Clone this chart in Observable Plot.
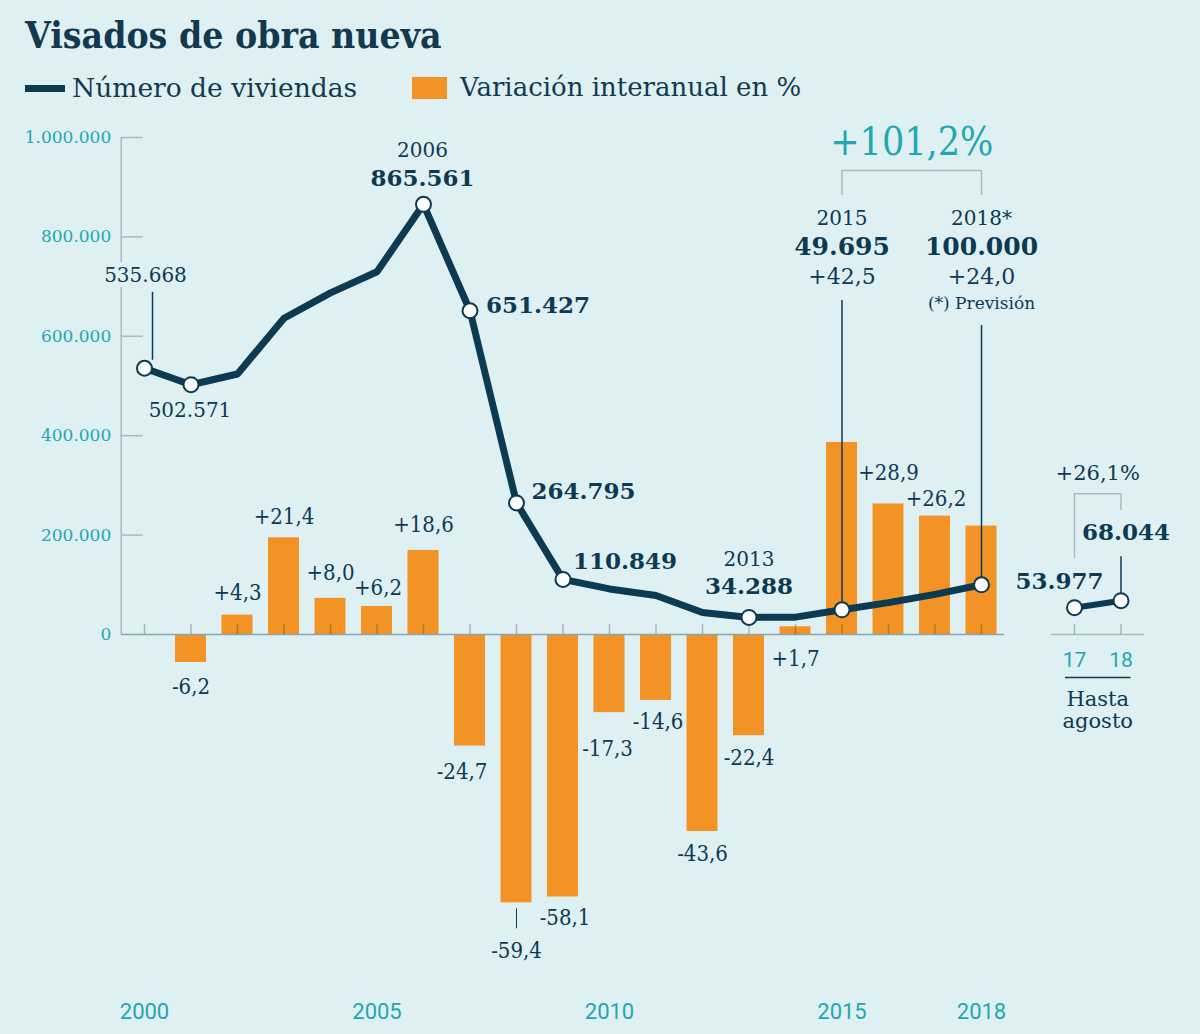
<!DOCTYPE html>
<html><head><meta charset="utf-8">
<script src="https://cdn.jsdelivr.net/npm/d3@7"></script>
<script src="https://cdn.jsdelivr.net/npm/@observablehq/plot@0.6"></script>
<style>
html,body{margin:0;padding:0;background:#dff0f3;}
#wrap{position:relative;width:1200px;height:1034px;overflow:hidden;background:#dff0f3}
#head{position:relative;height:110px}
.title{position:absolute;left:25px;top:13px;font-weight:bold;font-size:37px;font-family:'DejaVu Serif Condensed','DejaVu Serif',serif;color:#12394f;white-space:nowrap;line-height:1.2}
.lt{position:absolute;top:72px;font-size:26.5px;font-family:'DejaVu Serif',serif;color:#12394f;white-space:nowrap;line-height:1.2}
.sw{position:absolute}
#chart svg{display:block}
</style></head>
<body><div id="wrap">
<div id="head">
  <div class="title">Visados de obra nueva</div>
  <div class="sw" style="left:25px;top:85px;width:40px;height:7px;background:#0d3a53"></div>
  <div class="lt" style="left:72px">Número de viviendas</div>
  <div class="sw" style="left:412px;top:77px;width:35px;height:22px;background:#f39325"></div>
  <div class="lt" style="left:460px;font-size:26px">Variación interanual en %</div>
</div>
<div id="chart"></div>
</div>
<script>
// ---- data ----
const years = [2000,2001,2002,2003,2004,2005,2006,2007,2008,2009,2010,2011,2012,2013,2014,2015,2016,2017,2018];
const viviendas = [535668,502571,524181,636356,687264,729874,865561,651427,264795,110849,91662,78286,44162,34288,34873,49695,64038,80786,100000];
const variacion = [null,-6.2,4.3,21.4,8.0,6.2,18.6,-24.7,-59.4,-58.1,-17.3,-14.6,-43.6,-22.4,1.7,42.5,28.9,26.2,24.0];
const miniLabels = ["17","18"];
const miniValues = [53977,68044];
const miniNote = "Hasta\nagosto";
const yTicks = [0,200000,400000,600000,800000,1000000];
const xTickYears = [2000,2005,2010,2015,2018];
const labeledYears = [2000,2001,2006,2007,2008,2009,2013,2015,2018];
const forecastYear = 2018;

// ---- styles ----
const NAVY = "#0d3a53", ORANGE = "#f39325", TEAL = "#22a7b2", GRAY = "#a5bcc5", BG = "#dff0f3";
const SERIF = "DejaVu Serif", SERIFC = "'DejaVu Serif Condensed', 'DejaVu Serif', serif", SANS = "Roboto";
const PCT = 9090; // secondary axis: units of the count scale per percentage point

const es = d3.formatLocale({decimal: ",", thousands: ".", grouping: [3], currency: ["", " €"], minus: "-"});
const fmtN = es.format(",d");
const fmtP = es.format("+.1f");

const rows = years.map((year, i) => ({year, value: viviendas[i], pct: variacion[i]}));
const byYear = y => rows.find(d => d.year === y);
const lastYear = years[years.length - 1];
const mini = miniLabels.map((label, i) => ({label, year: lastYear + 2 + i, value: miniValues[i]}));
const yMax = yTicks[yTicks.length - 1];
const x0 = years[0] - 0.5;

// label offsets (layout only)
const barLabelOffset = {2001:{dy:24},2002:{dy:-22},2003:{dy:-21},2004:{dy:-25},2005:{dx:1,dy:-19},2006:{dy:-26},
  2007:{dx:-8,dy:26},2008:{dy:48},2009:{dx:2,dy:21},2010:{dx:-2,dy:36},2011:{dx:2,dy:22},2012:{dy:22},
  2013:{dy:22},2014:{dy:32},2016:{dy:-31},2017:{dx:1,dy:-17}};
const valueLabelStyle = [
  {year:2000, bold:false, dx:1, dy:-93, halo:true},
  {year:2001, bold:false, dx:-1, dy:26},
  {year:2006, bold:true, dx:-1, dy:-26, head:"2006", headDy:-54},
  {year:2007, bold:true, dx:16, dy:-5, anchor:"start"},
  {year:2008, bold:true, dx:15, dy:-11, anchor:"start"},
  {year:2009, bold:true, dx:10, dy:-18, anchor:"start"},
  {year:2013, bold:true, dx:0, dy:-31, head:"2013", headDy:-58}
];

const marks = [];
// y axis line, ticks and labels
marks.push(Plot.ruleX([x0], {y1: 0, y2: yMax, stroke: GRAY, strokeWidth: 1.5}));
marks.push(Plot.tickY(yTicks.filter(d => d > 0), {y: d => d, stroke: GRAY, strokeWidth: 1.5, insetRight: 1023 - 22}));
marks.push(Plot.axisY(yTicks, {tickSize: 0, tickPadding: 10, tickFormat: fmtN, label: null, fill: TEAL, fontSize: 17, fontFamily: SERIF}));

// bars
const barRows = rows.filter(d => d.pct != null);
marks.push(Plot.rectY(barRows, {x1: d => d.year - 1/3, x2: d => d.year + 1/3, y: d => d.pct * PCT, fill: ORANGE}));

// baselines + year ticks
marks.push(Plot.ruleY([0], {x1: x0, x2: lastYear + 0.5, stroke: "#86a4b1", strokeWidth: 1.5}));
marks.push(Plot.ruleY([0], {x1: mini[0].year - 0.5, x2: mini[mini.length-1].year + 0.5, stroke: GRAY, strokeWidth: 1.5}));
marks.push(Plot.ruleX([...years, ...mini.map(d => d.year)], {x: d => d, y1: 0, y2: 0, insetBottom: 10, stroke: NAVY, strokeOpacity: 0.3, strokeWidth: 1.5}));

// leaders
const r2015 = byYear(2015), r2018 = byYear(forecastYear);
marks.push(Plot.ruleX([r2015], {x: "year", y1: "value", y2: yMax, insetBottom: -163, stroke: NAVY, strokeWidth: 1.5}));
marks.push(Plot.ruleX([r2018], {x: "year", y1: "value", y2: yMax, insetBottom: -188, stroke: NAVY, strokeWidth: 1.5}));
marks.push(Plot.ruleX([byYear(2000)], {x: "year", y1: "value", y2: "value", insetTop: -8, insetBottom: 76, dx: 8, stroke: NAVY, strokeWidth: 1.5}));
marks.push(Plot.ruleX([mini[1]], {x: "year", y1: "value", y2: "value", insetBottom: 44, stroke: NAVY, strokeWidth: 1.5}));
const r2008 = byYear(2008);
marks.push(Plot.ruleX([r2008], {x: "year", y1: d => d.pct * PCT, y2: d => d.pct * PCT, insetTop: 26, insetBottom: -6, stroke: NAVY, strokeWidth: 1}));

// brackets
marks.push(Plot.ruleY([yMax], {x1: r2015.year, x2: r2018.year, dy: 33, stroke: GRAY, strokeWidth: 1.5}));
marks.push(Plot.ruleX([r2015.year, r2018.year], {x: d => d, y1: yMax, y2: yMax, insetTop: 33, insetBottom: -58, stroke: GRAY, strokeWidth: 1.5}));
marks.push(Plot.ruleY([mini[0]], {y: "value", x1: mini[0].year, x2: mini[1].year, dy: -114, stroke: GRAY, strokeWidth: 1.5}));
marks.push(Plot.ruleX([mini[0]], {x: "year", y1: "value", y2: "value", insetTop: -49, insetBottom: 114, stroke: GRAY, strokeWidth: 1.5}));
marks.push(Plot.ruleX([mini[1]], {x: "year", y1: "value", y2: "value", insetTop: -90, insetBottom: 107, stroke: GRAY, strokeWidth: 1.5}));

// lines + dots
marks.push(Plot.line(rows, {x: "year", y: "value", stroke: NAVY, strokeWidth: 7, strokeLinejoin: "miter"}));
marks.push(Plot.line(mini, {x: "year", y: "value", stroke: NAVY, strokeWidth: 6}));
marks.push(Plot.dot([...rows.filter(d => labeledYears.includes(d.year)), ...mini], {x: "year", y: "value", r: 7.5, fill: "white", stroke: NAVY, strokeWidth: 2}));

// bar labels
for (const d of barRows) {
  const o = barLabelOffset[d.year];
  if (!o) continue;
  marks.push(Plot.text([d], {x: "year", y: e => e.pct * PCT, text: e => fmtP(e.pct), dx: o.dx || 0, dy: o.dy, fill: NAVY, fontSize: 22, fontFamily: SERIFC}));
}

// value labels
for (const s of valueLabelStyle) {
  const d = byYear(s.year);
  marks.push(Plot.text([d], {x: "year", y: "value", text: e => fmtN(e.value), dx: s.dx, dy: s.dy, textAnchor: s.anchor || "middle",
    fill: NAVY, fontSize: s.bold ? 23 : 20, fontWeight: s.bold ? "bold" : "normal", fontFamily: SERIF,
    stroke: s.halo ? BG : null, strokeWidth: s.halo ? 10 : null}));
  if (s.head) marks.push(Plot.text([d], {x: "year", y: "value", text: e => String(e.year), dy: s.headDy, dx: s.dx, fill: NAVY, fontSize: 20, fontFamily: SERIF}));
}

// top annotations for 2015 / 2018
for (const d of [r2015, r2018]) {
  const fc = d.year === forecastYear;
  const base = {x: "year", frameAnchor: "top", lineAnchor: "middle", fill: NAVY, fontFamily: SERIF};
  marks.push(Plot.text([d], {...base, dy: 81, text: e => fc ? e.year + "*" : String(e.year), fontSize: 20}));
  marks.push(Plot.text([d], {...base, dy: 109, text: e => fmtN(e.value), fontSize: 25, fontWeight: "bold"}));
  marks.push(Plot.text([d], {...base, dy: 139, text: e => fmtP(e.pct), fontSize: 22}));
  if (fc) marks.push(Plot.text([d], {...base, dy: 166, text: ["(*) Previsión"], fontSize: 17}));
}
marks.push(Plot.text([{a: r2015, b: r2018}], {x: d => (d.a.year + d.b.year) / 2, frameAnchor: "top", lineAnchor: "middle", dy: 5,
  text: d => fmtP((d.b.value / d.a.value - 1) * 100) + "%", fill: TEAL, fontSize: 39, fontFamily: SERIFC}));

// mini chart texts
marks.push(Plot.text([{a: mini[0], b: mini[1]}], {x: d => (d.a.year + d.b.year) / 2, y: d => d.a.value, dy: -134,
  text: d => fmtP((d.b.value / d.a.value - 1) * 100) + "%", fill: NAVY, fontSize: 21, fontFamily: SERIF}));
marks.push(Plot.text([mini[1]], {x: "year", y: "value", dx: 5, dy: -68, text: d => fmtN(d.value), fill: NAVY, fontSize: 23, fontWeight: "bold", fontFamily: SERIF}));
marks.push(Plot.text([mini[0]], {x: "year", y: "value", dx: -15, dy: -26, text: d => fmtN(d.value), fill: NAVY, fontSize: 23, fontWeight: "bold", fontFamily: SERIF}));
marks.push(Plot.text(mini, {x: "year", y: 0, dy: 26, text: "label", fill: TEAL, fontSize: 21, fontFamily: SANS}));
marks.push(Plot.ruleY([0], {x1: mini[0].year, x2: mini[1].year, dy: 43, insetLeft: -9, insetRight: -10, stroke: NAVY, strokeWidth: 1.5}));
marks.push(Plot.text([miniNote], {x: (mini[0].year + mini[1].year) / 2, y: 0, dy: 75, text: d => d, lineHeight: 1.05, fill: NAVY, fontSize: 21, fontFamily: SERIF}));

// x labels
marks.push(Plot.text(xTickYears, {x: d => d, frameAnchor: "bottom", lineAnchor: "middle", text: d => String(d), fill: TEAL, fontSize: 22, fontFamily: SANS, letterSpacing: "-1px"}));

const chart = Plot.plot({
  width: 1200, height: 924,
  marginLeft: 120.75, marginRight: 56.25, marginTop: 27, marginBottom: 22.3,
  x: {domain: [x0, mini[mini.length-1].year + 0.5], axis: null},
  y: {domain: [-760000, yMax], axis: null},
  style: {background: "transparent", overflow: "visible", fontFamily: SERIF},
  marks
});
document.getElementById("chart").appendChild(chart);
</script>
</body></html>
